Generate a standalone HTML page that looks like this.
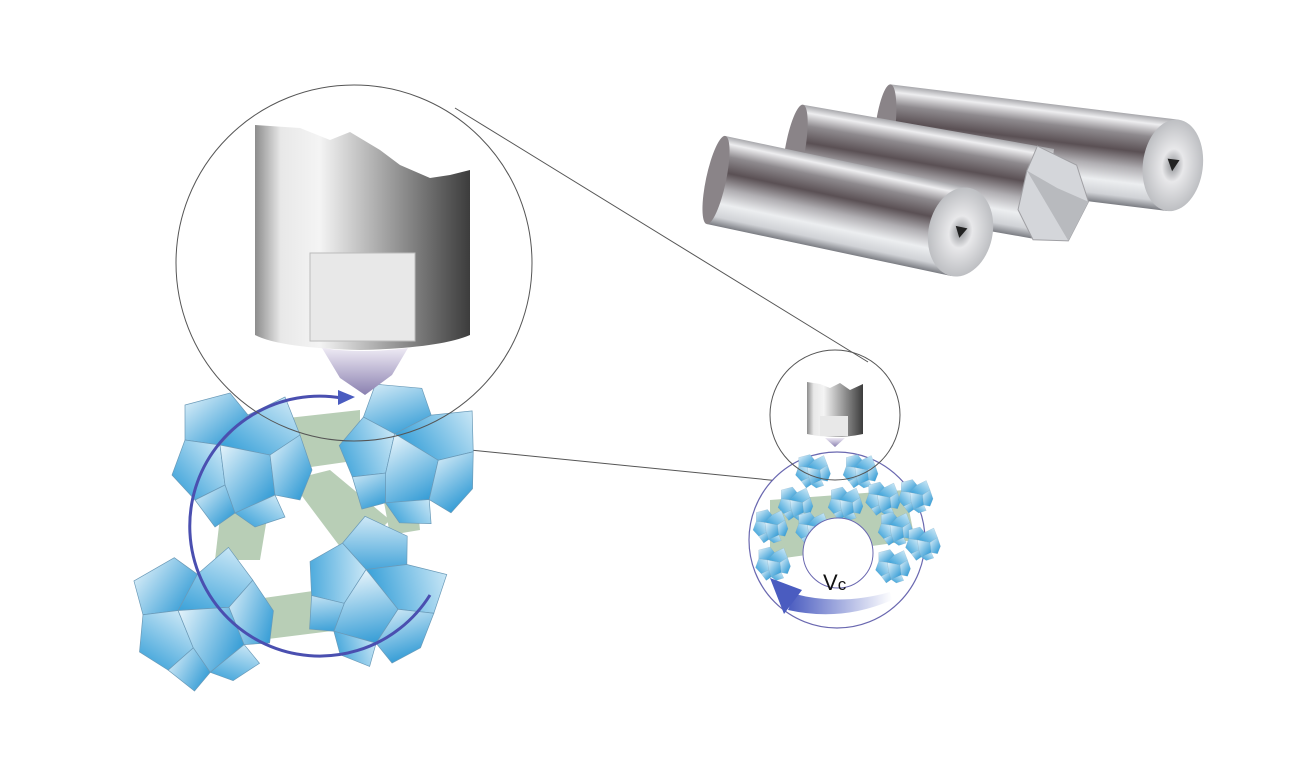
<!DOCTYPE html>
<html><head><meta charset="utf-8"><style>html,body{margin:0;padding:0;background:#fff}svg{display:block}</style></head>
<body>
<svg width="1290" height="766" viewBox="0 0 1290 766" xmlns="http://www.w3.org/2000/svg">
<defs>
<linearGradient id="metal" x1="0" y1="0" x2="0" y2="1">
<stop offset="0" stop-color="#a8a8ac"/><stop offset="0.08" stop-color="#eeeef0"/><stop offset="0.22" stop-color="#8e8a8e"/><stop offset="0.4" stop-color="#5a5054"/><stop offset="0.58" stop-color="#b0aeb2"/><stop offset="0.75" stop-color="#eceef0"/><stop offset="0.9" stop-color="#d0d2d6"/><stop offset="1" stop-color="#7a7c82"/>
</linearGradient>
<radialGradient id="endc" cx="0.5" cy="0.5" r="0.6"><stop offset="0" stop-color="#909296"/><stop offset="0.3" stop-color="#e8e8ea"/><stop offset="1" stop-color="#b0b2b6"/></radialGradient>
<linearGradient id="tool" x1="0" y1="0" x2="1" y2="0">
<stop offset="0" stop-color="#8c8c8c"/><stop offset="0.12" stop-color="#e8e8e8"/><stop offset="0.3" stop-color="#f4f4f4"/><stop offset="0.7" stop-color="#8a8a8a"/><stop offset="1" stop-color="#3c3c3c"/>
</linearGradient>
<linearGradient id="tip" x1="0" y1="0" x2="0" y2="1"><stop offset="0" stop-color="#eeeaf4"/><stop offset="1" stop-color="#8a80b0"/></linearGradient>
<linearGradient id="g1" x1="0" y1="0" x2="1" y2="1"><stop offset="0" stop-color="#e6f4fb"/><stop offset="1" stop-color="#1a8fd0"/></linearGradient>
<linearGradient id="g2" x1="1" y1="0" x2="0" y2="1"><stop offset="0" stop-color="#d8eef9"/><stop offset="1" stop-color="#2b9ad6"/></linearGradient>
<linearGradient id="arr" x1="1" y1="0" x2="0" y2="0"><stop offset="0" stop-color="#ffffff"/><stop offset="1" stop-color="#4a5cc0"/></linearGradient>
<g id="cl">
<polygon points="-55,-50 -10,-62 8,-40 -20,-10 -55,-15" fill="url(#g1)" stroke="#6a9ab8" stroke-width="0.7"/>
<polygon points="8,-40 45,-58 60,-20 30,0 -20,-10" fill="url(#g2)" stroke="#6a9ab8" stroke-width="0.7"/>
<polygon points="-55,-15 -20,-10 -15,30 -45,45 -68,20" fill="url(#g2)" stroke="#6a9ab8" stroke-width="0.7"/>
<polygon points="-20,-10 30,0 35,40 -5,58 -15,30" fill="url(#g1)" stroke="#6a9ab8" stroke-width="0.7"/>
<polygon points="30,0 60,-20 72,15 60,45 35,40" fill="url(#g1)" stroke="#6a9ab8" stroke-width="0.7"/>
<polygon points="-45,45 -15,30 -5,58 -25,72" fill="url(#g1)" stroke="#6a9ab8" stroke-width="0.7"/>
<polygon points="-5,58 35,40 45,62 15,72" fill="url(#g2)" stroke="#6a9ab8" stroke-width="0.7"/>
</g>
</defs>

<!-- rods -->
<g transform="translate(885,130) rotate(7)">
<rect x="0" y="-46" width="290" height="92" fill="url(#metal)"/>
<ellipse cx="0" cy="0" rx="10" ry="46" fill="#8a8488"/>
<ellipse cx="290" cy="0" rx="30" ry="46" fill="url(#endc)"/>
<polygon points="284,-6 296,-6 290,6" fill="#222"/>
</g>
<g transform="translate(795,150) rotate(10)">
<rect x="0" y="-46" width="255" height="92" fill="url(#metal)"/>
<ellipse cx="0" cy="0" rx="10" ry="46" fill="#8a8488"/>
<polygon points="238,-46 280,-34 298,0 285,42 250,47 230,20 232,-20" fill="#d4d6da" stroke="#a0a0a4" stroke-width="1"/>
<polygon points="232,-20 265,-8 298,0 285,42" fill="#b8babe"/>
</g>
<g transform="translate(716,180) rotate(12)">
<rect x="0" y="-45" width="250" height="90" fill="url(#metal)"/>
<ellipse cx="0" cy="0" rx="10" ry="45" fill="#8a8488"/>
<ellipse cx="250" cy="0" rx="32" ry="45" fill="url(#endc)"/>
<polygon points="244,-5 256,-5 250,6" fill="#222"/>
</g>

<!-- connector lines -->
<line x1="455" y1="108" x2="868" y2="362" stroke="#555" stroke-width="1"/>
<line x1="440" y1="447" x2="800" y2="483" stroke="#555" stroke-width="1"/>

<!-- bonds -->
<g fill="#b8ceb6">
<polygon points="270,420 360,410 360,460 290,470"/>
<polygon points="290,480 330,470 390,520 350,560"/>
<polygon points="222,500 270,500 260,560 215,560"/>
<polygon points="380,480 415,480 420,530 390,535"/>
<polygon points="250,600 320,590 340,630 260,640"/>
</g>
<use href="#cl" transform="translate(240,455)"/>
<use href="#cl" transform="translate(410,450) rotate(20)"/>
<use href="#cl" transform="translate(200,615) rotate(-15)"/>
<use href="#cl" transform="translate(375,590) rotate(40)"/>

<path d="M 430,595 A 130 130 0 1 1 342,398" fill="none" stroke="#4a4fb0" stroke-width="3"/>
<polygon points="338,390 355,397 338,405" fill="#4a5cc0"/>

<circle cx="354" cy="263" r="178" fill="none" stroke="#555" stroke-width="1"/>
<path d="M255,125 L300,128 L330,140 L350,132 L380,150 L400,165 L430,178 L450,175 L470,170 L470,335 Q440,348 360,350 Q280,348 255,335 Z" fill="url(#tool)"/>
<rect x="310" y="253" width="105" height="88" fill="#e8e8e8" stroke="#bbb" stroke-width="1"/>
<path d="M322,348 Q363,354 408,348 L392,375 L365,395 L340,378 Z" fill="url(#tip)"/>

<!-- small wheel -->
<circle cx="837" cy="540" r="88" fill="#fff" stroke="#6a68b0" stroke-width="1.2"/>
<g fill="#b8ceb6">
<polygon points="770,500 905,490 915,540 770,560"/>
</g>
<g transform="scale(0.25)">
<use href="#cl" transform="translate(3250,1880)"/>
<use href="#cl" transform="translate(3440,1880)"/>
<use href="#cl" transform="translate(3530,1990)"/>
<use href="#cl" transform="translate(3660,1980)"/>
<use href="#cl" transform="translate(3380,2010)"/>
<use href="#cl" transform="translate(3180,2010)"/>
<use href="#cl" transform="translate(3080,2100)"/>
<use href="#cl" transform="translate(3250,2110)"/>
<use href="#cl" transform="translate(3580,2110)"/>
<use href="#cl" transform="translate(3690,2170)"/>
<use href="#cl" transform="translate(3090,2250)"/>
<use href="#cl" transform="translate(3570,2260)"/>
</g>
<circle cx="838" cy="553" r="35" fill="#fff" stroke="#6a68b0" stroke-width="1"/>
<path d="M890,592 Q840,606 795,594 L788,610 Q842,622 892,600 Z" fill="url(#arr)"/>
<polygon points="770,578 802,590 784,614" fill="#4a5cc0"/>
<text x="823" y="590" font-family="Liberation Sans, sans-serif" font-size="22" fill="#111">V<tspan font-size="17">c</tspan></text>

<circle cx="835" cy="415" r="65" fill="none" stroke="#555" stroke-width="1"/>
<path d="M807,382 L820,384 L830,388 L840,383 L850,390 L863,384 L863,434 Q835,440 807,434 Z" fill="url(#tool)"/>
<rect x="820" y="416" width="28" height="20" fill="#e8e8e8"/>
<path d="M825,438 L845,438 L835,447 Z" fill="url(#tip)"/>
</svg>
</body></html>
